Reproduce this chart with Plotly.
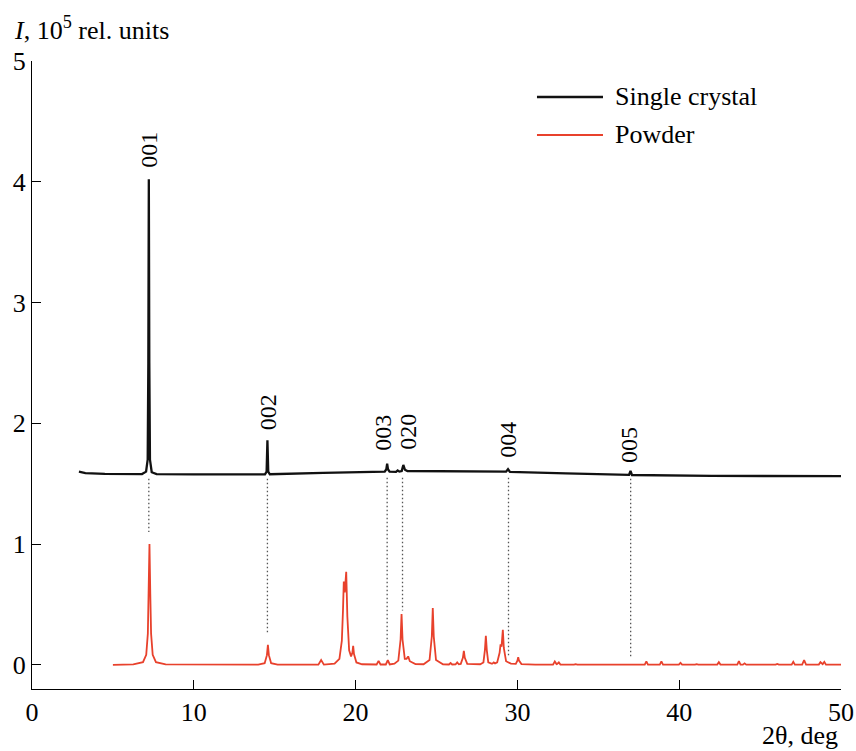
import plotly.graph_objects as go

# ---- data ----
# Single crystal XRD curve (2θ in deg, I in 10^5 rel. units)
crystal_x = [2.9, 3.3, 4.5, 6.8, 7.05, 7.15, 7.19, 7.22, 7.25, 7.29, 7.4, 7.7, 10.0,
             14.4, 14.5, 14.55, 14.6, 14.7, 18.0, 21.8, 21.9, 21.95, 22.0, 22.1,
             22.5, 22.6, 22.7, 22.85, 22.95, 23.05, 23.2, 26.0, 29.3, 29.42, 29.54,
             33.0, 36.9, 36.99, 37.08, 42.0, 50.0]
crystal_y = [1.60, 1.588, 1.582, 1.58, 1.60, 1.70, 2.5, 4.02, 2.5, 1.70, 1.595, 1.58, 1.577,
             1.578, 1.60, 1.86, 1.60, 1.578, 1.59, 1.60, 1.62, 1.665, 1.62, 1.60,
             1.598, 1.61, 1.60, 1.605, 1.655, 1.615, 1.605, 1.605, 1.60, 1.62, 1.598,
             1.585, 1.573, 1.605, 1.572, 1.565, 1.562]

# Powder XRD curve
powder_x = [5.0, 6.26, 6.86, 7.06, 7.16, 7.21, 7.26, 7.31, 7.36, 7.46, 7.66, 8.26,
            13.98, 14.38, 14.52, 14.58, 14.64, 14.78, 15.18,
            17.7, 17.87, 18.04,
            18.7, 19.0, 19.15, 19.22, 19.27, 19.33, 19.42, 19.49, 19.6, 19.72, 19.8, 19.85, 19.9, 20.05, 20.4,
            21.3, 21.42, 21.54, 21.87, 21.99, 22.11,
            22.4, 22.64, 22.78, 22.84, 22.9, 23.04, 23.15, 23.25, 23.35, 23.7,
            24.2, 24.57, 24.71, 24.77, 24.83, 24.97, 25.4,
            25.77, 25.87, 25.97, 26.18, 26.28, 26.38,
            26.5, 26.63, 26.69, 26.75, 26.9,
            27.7, 27.9, 27.99, 28.05, 28.11, 28.2, 28.4,
            28.45, 28.54, 28.62,
            28.75, 28.9, 28.96, 29.02, 29.1, 29.16, 29.3, 29.6,
            29.9, 30.0, 30.05, 30.1, 30.25,
            30.9, 31.0, 31.1, 32.2, 32.31, 32.42, 32.46, 32.56, 32.66,
            33.5, 33.6, 33.7, 37.1, 37.2, 37.3, 37.87, 37.97, 38.07,
            38.8, 38.9, 39.0, 39.98, 40.08, 40.18, 40.98, 41.08, 41.18,
            41.7, 41.8, 41.9, 42.35, 42.45, 42.55, 43.59, 43.69, 43.79,
            43.94, 44.04, 44.14, 45.96, 46.06, 46.16, 46.27, 46.37, 46.47,
            46.95, 47.05, 47.15, 47.6, 47.72, 47.84, 48.63, 48.73, 48.83,
            48.87, 48.97, 49.07, 50.0]
powder_y = [0.0, 0.004, 0.022, 0.083, 0.26, 0.59, 1.00, 0.59, 0.26, 0.083, 0.022, 0.004,
            0.002, 0.014, 0.08, 0.165, 0.08, 0.014, 0.002,
            0.002, 0.04, 0.002,
            0.01, 0.05, 0.2, 0.45, 0.69, 0.6, 0.77, 0.4, 0.12, 0.07, 0.1, 0.157, 0.09, 0.02, 0.005,
            0.003, 0.033, 0.003, 0.003, 0.04, 0.003,
            0.01, 0.035, 0.21, 0.42, 0.21, 0.05, 0.05, 0.07, 0.03, 0.006,
            0.005, 0.04, 0.235, 0.47, 0.235, 0.04, 0.005,
            0.003, 0.015, 0.003, 0.004, 0.02, 0.005,
            0.008, 0.058, 0.116, 0.058, 0.008,
            0.005, 0.02, 0.12, 0.24, 0.12, 0.02, 0.01,
            0.01, 0.02, 0.012,
            0.02, 0.1, 0.17, 0.15, 0.29, 0.14, 0.03, 0.01,
            0.008, 0.035, 0.063, 0.035, 0.006,
            0.002, 0.006, 0.002, 0.002, 0.028, 0.006, 0.008, 0.02, 0.002,
            0.002, 0.006, 0.002, 0.002, 0.006, 0.002, 0.002, 0.028, 0.002,
            0.002, 0.028, 0.002, 0.002, 0.017, 0.002, 0.002, 0.006, 0.002,
            0.002, 0.006, 0.002, 0.002, 0.022, 0.002, 0.002, 0.03, 0.002,
            0.002, 0.012, 0.002, 0.002, 0.008, 0.002, 0.002, 0.008, 0.002,
            0.002, 0.025, 0.002, 0.002, 0.04, 0.002, 0.002, 0.022, 0.006,
            0.006, 0.025, 0.002, 0.002]

# Reflection labels and guide lines
refl_labels = ["001", "002", "003", "020", "004", "005"]
refl_label_x = [7.24, 14.55, 21.72, 23.27, 29.37, 36.9]
refl_label_y = [4.10, 1.93, 1.76, 1.76, 1.70, 1.655]
guide_x = [7.22, 14.55, 21.95, 22.9, 29.45, 37.0]
guide_top = [1.54, 1.54, 1.55, 1.55, 1.55, 1.54]
guide_bottom = [1.10, 0.265, 0.06, 0.45, 0.08, 0.06]

series_names = ["Single crystal", "Powder"]
x_ticks = [0, 10, 20, 30, 40, 50]
y_ticks = [0, 1, 2, 3, 4, 5]

FONT = "Liberation Serif"
BLACK = "#111111"
RED = "#e8412c"

fig = go.Figure()
fig.add_trace(go.Scatter(x=crystal_x, y=crystal_y, mode="lines", name=series_names[0],
                         line=dict(color=BLACK, width=2.3), showlegend=False))
fig.add_trace(go.Scatter(x=powder_x, y=powder_y, mode="lines", name=series_names[1],
                         line=dict(color=RED, width=1.8), showlegend=False))

shapes = []
for gx, gt, gb in zip(guide_x, guide_top, guide_bottom):
    shapes.append(dict(type="line", xref="x", yref="y", x0=gx, x1=gx, y0=gt, y1=gb,
                       line=dict(color="#555555", width=1.3, dash="1.5px,2.5px")))

# manual legend
shapes.append(dict(type="line", xref="paper", yref="paper", x0=0.6242, x1=0.7058,
                   y0=0.9427, y1=0.9427, line=dict(color=BLACK, width=2.3)))
shapes.append(dict(type="line", xref="paper", yref="paper", x0=0.6242, x1=0.7058,
                   y0=0.8822, y1=0.8822, line=dict(color=RED, width=1.8)))

annotations = []
for t, ax, ay in zip(refl_labels, refl_label_x, refl_label_y):
    annotations.append(dict(x=ax, y=ay, xref="x", yref="y", text=t, showarrow=False,
                            textangle=-90, xanchor="center", yanchor="bottom",
                            font=dict(family=FONT, size=24, color="black")))
annotations.append(dict(x=0.7182, y=0.9427, xref="paper", yref="paper", text=series_names[0],
                        showarrow=False, xanchor="left", yanchor="middle",
                        font=dict(family=FONT, size=26, color="black")))
annotations.append(dict(x=0.7182, y=0.8822, xref="paper", yref="paper", text=series_names[1],
                        showarrow=False, xanchor="left", yanchor="middle",
                        font=dict(family=FONT, size=26, color="black")))
annotations.append(dict(x=-0.0247, y=1.0525, xref="paper", yref="paper",
                        text="<i>I</i>, 10<sup>5</sup> rel. units",
                        showarrow=False, xanchor="left", yanchor="middle",
                        font=dict(family=FONT, size=26, color="black")))
annotations.append(dict(x=0.9988, y=-0.0748, xref="paper", yref="paper",
                        text="2θ, deg", showarrow=False, xanchor="right", yanchor="middle",
                        font=dict(family=FONT, size=26, color="black")))

fig.update_layout(
    width=856, height=751,
    margin=dict(l=32, r=15, t=61, b=62, autoexpand=False),
    paper_bgcolor="white", plot_bgcolor="white",
    shapes=shapes, annotations=annotations,
    font=dict(family=FONT, size=26, color="black"),
)
fig.update_xaxes(range=[0, 50], tickvals=x_ticks, ticktext=[str(v) for v in x_ticks],
                 automargin=False,
                 showgrid=False, zeroline=False, showline=True, linecolor="black",
                 linewidth=1.3, ticks="inside", ticklen=9, tickwidth=1.3, tickcolor="black",
                 tickfont=dict(family=FONT, size=26, color="black"))
fig.update_yaxes(range=[-0.2, 5], tickvals=y_ticks, ticktext=[str(v) for v in y_ticks],
                 automargin=False,
                 showgrid=False, zeroline=False, showline=True, linecolor="black",
                 linewidth=1.3, ticks="inside", ticklen=9, tickwidth=1.3, tickcolor="black",
                 tickfont=dict(family=FONT, size=26, color="black"))

fig.write_html("out.html", config={"displayModeBar": False},
               post_script="document.body.style.margin='0';document.body.style.overflow='hidden';")
